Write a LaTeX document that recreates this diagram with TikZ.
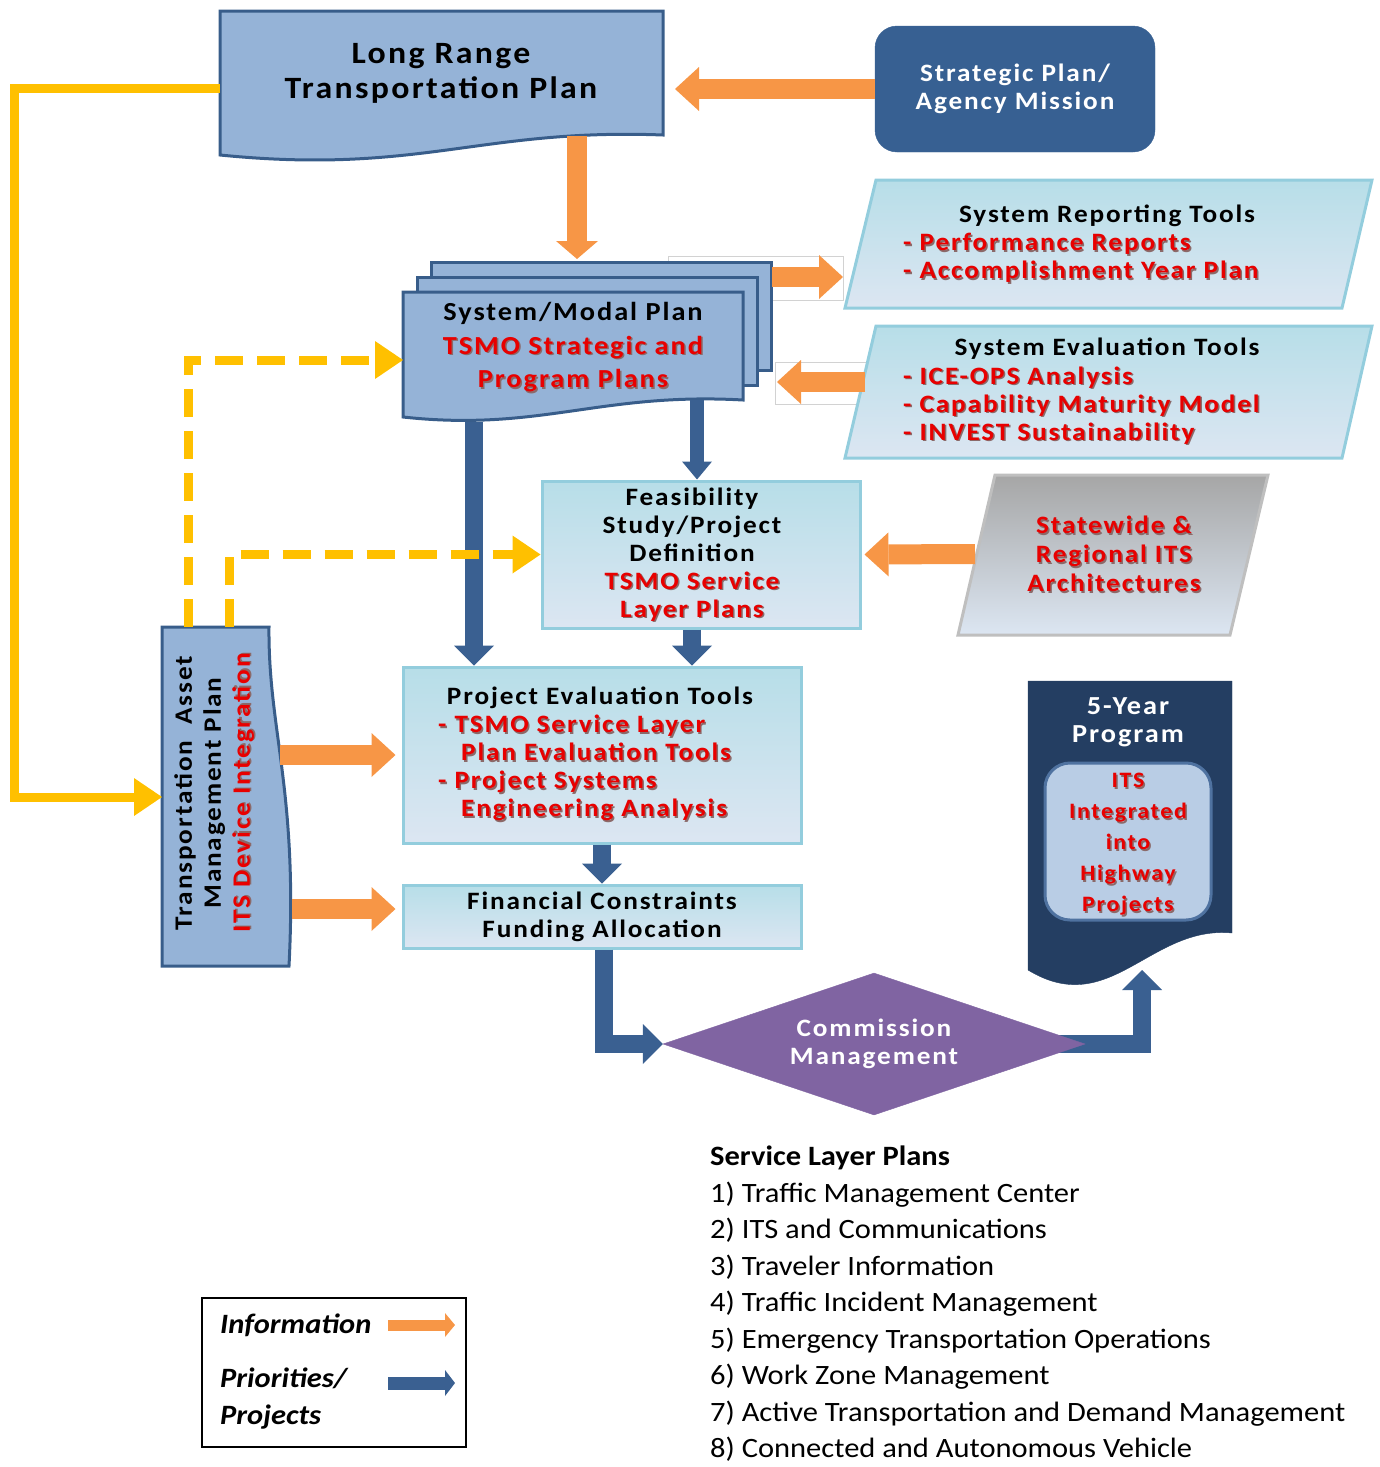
\documentclass[tikz,border=0pt]{standalone}
\usepackage{fontspec}
\setmainfont[FakeStretch=1.09]{Carlito}
\newfontfamily\spacedfont[FakeStretch=1.09, LetterSpace=7.5]{Carlito}
\usetikzlibrary{arrows.meta, positioning, backgrounds, shapes.geometric}

\definecolor{planblue}{RGB}{149,179,215}
\definecolor{edgeblue}{RGB}{56,93,138}
\definecolor{stratfill}{RGB}{55,96,146}
\definecolor{infoorange}{RGB}{247,150,70}
\definecolor{prioblue}{RGB}{58,96,145}
\definecolor{planyellow}{RGB}{255,192,0}
\definecolor{tooltop}{RGB}{183,222,232}
\definecolor{toolbot}{RGB}{220,230,242}
\definecolor{tooledge}{RGB}{147,205,221}
\definecolor{archtop}{RGB}{166,166,166}
\definecolor{archedge}{RGB}{191,191,191}
\definecolor{navy}{RGB}{36,62,98}
\definecolor{innerfill}{RGB}{185,205,229}
\definecolor{inneredge}{RGB}{79,114,160}
\definecolor{commfill}{RGB}{128,100,162}
\definecolor{tsmored}{RGB}{232,0,0}
\definecolor{tsmoshade}{RGB}{90,40,40}

% red text with its dark drop shadow
\newcommand{\tsmo}[1]{\leavevmode\rlap{\raisebox{-1.5pt}{\hspace{1.5pt}\textcolor{tsmoshade!70}{#1}}}\textcolor{tsmored}{#1}}

\tikzset{%
  doc/.style={draw=edgeblue, line width=3pt, fill=planblue},
  tool/.style={draw=tooledge, line width=3pt, top color=tooltop, bottom color=toolbot, inner sep=0pt},
  archbox/.style={draw=archedge, line width=3pt, top color=archtop, bottom color=toolbot},
  title/.style args={#1/#2}{font=\spacedfont\bfseries\fontsize{#1}{#2}\selectfont, align=center, inner sep=0pt},
  items/.style={title=25/28, align=left},
  info/.style={draw=infoorange, line width=20pt, -{Triangle[width=44pt,length=24pt,line width=0pt]}},
  prio/.style={draw=prioblue, line width=18pt, -{Triangle[width=40pt,length=20pt,line width=0pt]}},
  plan/.style={draw=planyellow, line width=9pt, -{Triangle[width=38pt,length=28pt,line width=0pt]}},
  planfeed/.style={plan, dash pattern=on 28pt off 14pt},
  legtext/.style={font=\bfseries\itshape\fontsize{28}{37}\selectfont, inner sep=0pt}
}

\begin{document}
\begin{tikzpicture}[x=1pt, y=-1pt]
  \useasboundingbox (0,0) rectangle (1380,1467);

  % plans
  \draw[doc] (220,11) -- (663,11) -- (663,135) .. controls (480,128) and (420,175) .. (220,155) -- cycle;
  \node[title=31/35] (lrtp) at (441,73) {Long Range\\Transportation Plan};
  \coordinate (lrtp-w) at (220,88);
  \coordinate (lrtp-e) at (675,89);
  \coordinate (lrtp-s) at (577,136);

  \node[draw=stratfill, fill=stratfill, rounded corners=22pt, minimum width=280pt, minimum height=126pt, text=white, title=25/28] (strat) at (1015,89) {Strategic Plan/\\Agency Mission};

  \draw[doc] (431,262) rectangle (771,370);
  \draw[doc] (417,277) rectangle (757,385);
  \draw[doc] (403,292) -- (743,292) -- (743,400) .. controls (600,392) and (540,432) .. (403,417) -- cycle;
  \node[title=26/33.5] (sysplan) at (573,348) {System/Modal Plan\\\tsmo{TSMO Strategic and}\\\tsmo{Program Plans}};
  \coordinate (sys-n) at (577,259);
  \coordinate (sys-e) at (772,277);
  \coordinate (sys-e2) at (777,382);
  \coordinate (sys-w) at (403,360);
  \coordinate (sys-se) at (697,400);
  \coordinate (sys-sw) at (474,422);

  % tools
  \draw[tool] (876,180) -- (1372,180) -- (1342,308) -- (845,308) -- cycle;
  \node[title=25/28] (reptitle) at (1107,216) {System Reporting Tools};
  \node[items, anchor=west] (repitems) at (903,259) {\tsmo{- Performance Reports}\\\tsmo{- Accomplishment Year Plan}};
  \coordinate (rep-w) at (843,277);

  \draw[tool] (876,326) -- (1372,326) -- (1342,458) -- (845,458) -- cycle;
  \node[title=25/28] (evaltitle) at (1107,349) {System Evaluation Tools};
  \node[items, anchor=west] (evalitems) at (903,406) {\tsmo{- ICE-OPS Analysis}\\\tsmo{- Capability Maturity Model}\\\tsmo{- INVEST Sustainability}};
  \coordinate (eval-w) at (865,382);

  \draw[archbox] (995,475) -- (1268,475) -- (1230,635) -- (958,635) -- cycle;
  \node[title=25/29] (arch) at (1114,555) {\tsmo{Statewide \&}\\\tsmo{Regional ITS}\\\tsmo{Architectures}};
  \coordinate (arch-w) at (975,554);

  \node[tool, minimum width=318pt, minimum height=147pt] (feas) at (701,554.5) {};
  \node[title=25/28] (feastext) at (692,555) {Feasibility\\Study/Project\\Definition\\\tsmo{TSMO Service}\\\tsmo{Layer Plans}};

  \node[tool, minimum width=398pt, minimum height=176pt] (proj) at (602,755) {};
  \node[title=25/28] (projtitle) at (600,698) {Project Evaluation Tools};
  \node[items, anchor=west] (projitems) at (438,769) {\tsmo{- TSMO Service Layer}\\\hspace*{23pt}\tsmo{Plan Evaluation Tools}\\\tsmo{- Project Systems}\\\hspace*{23pt}\tsmo{Engineering Analysis}};

  \node[tool, title=25/28, minimum width=398pt, minimum height=63pt] (fin) at (602,916.5) {Financial Constraints\\Funding Allocation};

  \draw[doc] (162,627) -- (269,627) .. controls (268,730) and (298,790) .. (289,966) -- (162,966) -- cycle;
  \node[title=25/29, rotate=90] (tamp) at (215,793) {Transportation\ \ Asset\\Management Plan\\\tsmo{ITS Device Integration}};
  \coordinate (tamp-w) at (162,797);
  \coordinate (tamp-n1) at (188,627);
  \coordinate (tamp-n2) at (229,627);
  \coordinate (tamp-e1) at (280,755);
  \coordinate (tamp-e2) at (292,909);

  \node[diamond, aspect=3, draw=commfill, fill=commfill, minimum width=422pt, minimum height=142pt, text=white, title=25/28] (comm) at (874,1044) {Commission\\Management};

  \draw[draw=navy, fill=navy] (1028,681) -- (1232,681) -- (1232,933) .. controls (1150,925) and (1110,1020) .. (1028,970) -- cycle;
  \node[title=26/28, text=white] (five) at (1128,722) {5-Year\\Program};
  \node[draw=inneredge, line width=3pt, fill=innerfill, rounded corners=25pt, minimum width=166pt, minimum height=157pt, title=22/31] (its) at (1128,841.5) {};
  \node[title=22/31] (itstext) at (1128,845) {\tsmo{ITS}\\\tsmo{Integrated}\\\tsmo{into}\\\tsmo{Highway}\\\tsmo{Projects}};
  \coordinate (five-s) at (1142,970);
  \coordinate (yl) at (14,88);

  % connectors
  \begin{scope}[on background layer]
    \draw[gray!35, line width=1pt] (668,256) rectangle (843,300);
    \draw[gray!35, line width=1pt] (775,362) rectangle (866,404);
    \draw[prio] ([xshift=-30pt]comm.east) -| (five-s);
  \end{scope}

  \draw[info] (strat.west) -- (lrtp-e);
  \draw[info, -{Triangle[width=42pt,length=18pt,line width=0pt]}] (lrtp-s) -- (sys-n);
  \draw[info] (sys-e) -- (rep-w);
  \draw[info] (eval-w) -- (sys-e2);
  \draw[info] (arch-w) -- ([xshift=3pt]feas.east);
  \draw[info] (tamp-e1) -- ([xshift=-6pt]proj.west);
  \draw[info, shorten >=6pt] (tamp-e2) -- (tamp-e2 -| fin.west);

  \draw[prio, line width=14pt, -{Triangle[width=30pt,length=18pt,line width=0pt]}] (sys-se) -- (sys-se |- feas.north);
  \draw[prio] (sys-sw) -- (sys-sw |- proj.north);
  \draw[prio] ([xshift=-9pt]feas.south) -- ([xshift=-9pt]feas.south |- proj.north);
  \draw[prio] (proj.south) -- (fin.north);
  \draw[prio] ([xshift=2pt]fin.south) |- (comm.west);

  \draw[plan] (lrtp-w) -- (yl) |- (tamp-w);
  \draw[planfeed] (tamp-n1) |- (sys-w);
  \draw[planfeed] (tamp-n2) |- (feas.west);

  % legend
  \node[draw, line width=2pt, minimum width=264pt, minimum height=149pt] (legend) at (334,1372.5) {};
  \node[legtext, anchor=west] (leginfo) at (220,1325) {Information};
  \node[legtext, anchor=west, align=left] (legprio) at (220,1398.5) {Priorities/\\Projects};
  \coordinate (leg-i) at (388,1325);
  \coordinate (leg-p) at (388,1383);
  \draw[info, line width=11pt, -{Triangle[width=24pt,length=10pt,line width=0pt]}] (leg-i) -- ++(67,0);
  \draw[prio, line width=13pt, -{Triangle[width=26pt,length=10pt,line width=0pt]}] (leg-p) -- ++(67,0);

  \node[anchor=north west, align=left, inner sep=0pt, font=\fontsize{28}{36.5}\selectfont] (layers) at (710,1146) {\textbf{Service Layer Plans}\\1) Traffic Management Center\\2) ITS and Communications\\3) Traveler Information\\4) Traffic Incident Management\\5) Emergency Transportation Operations\\6) Work Zone Management\\7) Active Transportation and Demand Management\\8) Connected and Autonomous Vehicle};
\end{tikzpicture}
\end{document}
